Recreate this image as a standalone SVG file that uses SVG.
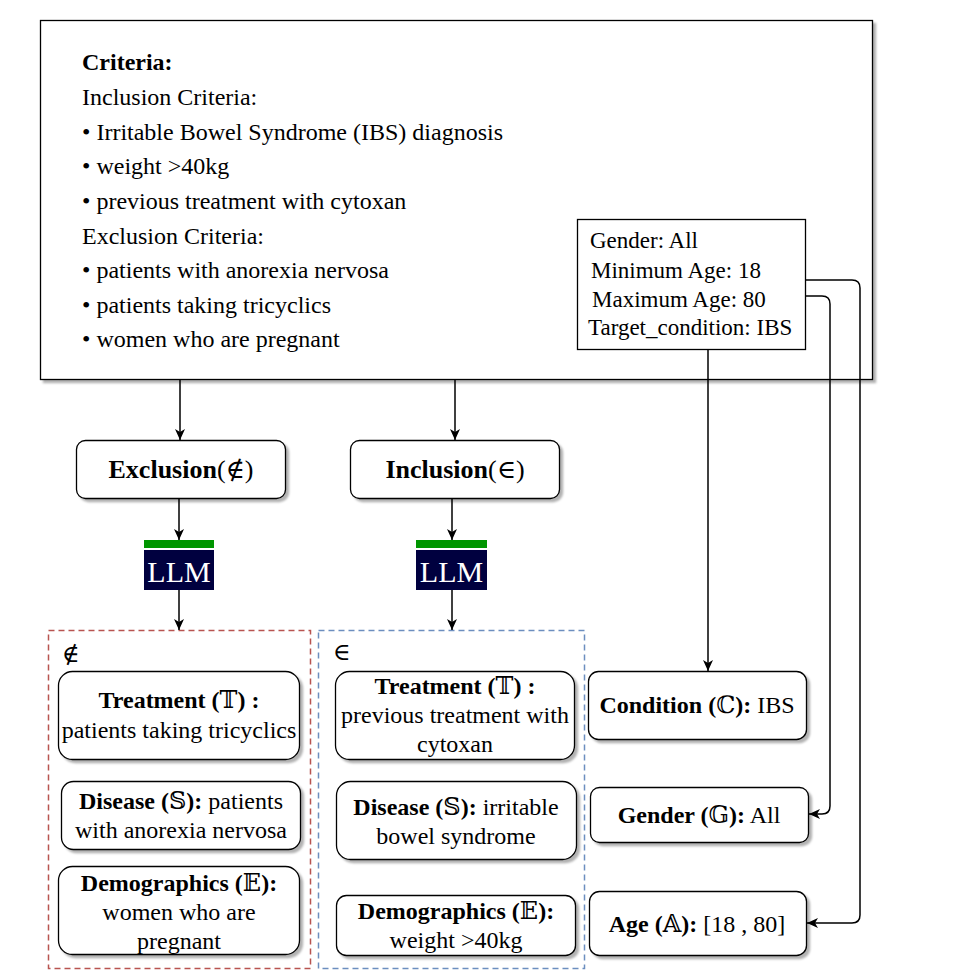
<svg xmlns="http://www.w3.org/2000/svg" width="971" height="972" viewBox="0 0 971 972">
<style>
text{font-family:"Liberation Serif","DejaVu Serif","DejaVu Sans",serif;font-size:24px;fill:#000}
.b{font-weight:bold}
.box{fill:#fff;stroke:#000;stroke-width:1.3}
.c{text-anchor:middle}
.conn{fill:none;stroke:#000;stroke-width:1.5}
</style>
<defs>
<filter id="sh" x="-5%" y="-5%" width="115%" height="120%">
<feDropShadow dx="3" dy="3" stdDeviation="1" flood-color="#000" flood-opacity="0.3"/>
</filter>
<marker id="ar" markerUnits="userSpaceOnUse" markerWidth="12" markerHeight="12" viewBox="0 0 12 12" refX="11" refY="6" orient="auto">
<path d="M0,1 L11,6 L0,11 L3,6 z" fill="#000"/>
</marker>
</defs>

<g id="criteria">
<rect x="40.5" y="20.5" width="832" height="359" fill="#fff" stroke="#000" stroke-width="1.3" filter="url(#sh)"/>
<text x="82" y="70" class="b">Criteria:</text>
<text x="82" y="105">Inclusion Criteria:</text>
<text x="82" y="139.5">• Irritable Bowel Syndrome (IBS) diagnosis</text>
<text x="82" y="174">• weight &gt;40kg</text>
<text x="82" y="209">• previous treatment with cytoxan</text>
<text x="82" y="243.5">Exclusion Criteria:</text>
<text x="82" y="278">• patients with anorexia nervosa</text>
<text x="82" y="313">• patients taking tricyclics</text>
<text x="82" y="347">• women who are pregnant</text>
</g>

<g id="meta">
<rect x="577.5" y="219.5" width="228" height="130" class="box"/>
<text x="590" y="248" style="font-size:23px">Gender: All</text>
<text x="591" y="278" style="font-size:23px">Minimum Age: 18</text>
<text x="592" y="307" style="font-size:23px">Maximum Age: 80</text>
<text x="588" y="335" style="font-size:23px">Target_condition: IBS</text>
</g>

<g id="exclusion">
<rect x="76.5" y="440.5" width="209" height="58" rx="9" class="box" filter="url(#sh)"/>
<text x="181" y="478" class="c" style="font-size:26px"><tspan class="b">Exclusion</tspan>(∉)</text>
</g>
<g id="inclusion">
<rect x="350.5" y="440.5" width="209" height="58" rx="9" class="box" filter="url(#sh)"/>
<text x="455" y="478" class="c" style="font-size:26px"><tspan class="b">Inclusion</tspan>(∈)</text>
</g>

<g id="llm-exclusion">
<rect x="144" y="540" width="70" height="8" fill="#009600"/>
<rect x="144" y="550" width="70" height="40" fill="#00003f"/>
<text x="179" y="582" class="c" style="font-size:30px;fill:#fff">LLM</text>
</g>
<g id="llm-inclusion">
<rect x="416" y="540" width="71" height="8" fill="#009600"/>
<rect x="416" y="550" width="71" height="40" fill="#00003f"/>
<text x="451.5" y="582" class="c" style="font-size:30px;fill:#fff">LLM</text>
</g>

<g id="exclusion-group">
<rect x="48.5" y="630.5" width="262" height="338" fill="none" stroke="#b85450" stroke-width="1.5" stroke-dasharray="6 4"/>
<text x="62" y="662">∉</text>
</g>
<g id="inclusion-group">
<rect x="318.5" y="630.5" width="266" height="338" fill="none" stroke="#6c8ebf" stroke-width="1.5" stroke-dasharray="6 4"/>
<text x="333" y="660">∈</text>
</g>

<g id="ex-treatment">
<rect x="58.5" y="671.5" width="241" height="88" rx="14" class="box" filter="url(#sh)"/>
<text x="179" y="708" class="c"><tspan class="b">Treatment (</tspan>𝕋<tspan class="b">) :</tspan></text>
<text x="179" y="738" class="c">patients taking tricyclics</text>
</g>
<g id="ex-disease">
<rect x="61.5" y="781.5" width="239" height="68" rx="12" class="box" filter="url(#sh)"/>
<text x="181" y="809" class="c"><tspan class="b">Disease (</tspan>𝕊<tspan class="b">):</tspan> patients</text>
<text x="181" y="838" class="c">with anorexia nervosa</text>
</g>
<g id="ex-demographics">
<rect x="58.5" y="866.5" width="241" height="88" rx="14" class="box" filter="url(#sh)"/>
<text x="179" y="891" class="c"><tspan class="b">Demographics (</tspan>𝔼<tspan class="b">):</tspan></text>
<text x="179" y="920" class="c">women who are</text>
<text x="179" y="949" class="c">pregnant</text>
</g>

<g id="in-treatment">
<rect x="335.5" y="671.5" width="239" height="88" rx="14" class="box" filter="url(#sh)"/>
<text x="455" y="694" class="c"><tspan class="b">Treatment (</tspan>𝕋<tspan class="b">) :</tspan></text>
<text x="455" y="723" class="c">previous treatment with</text>
<text x="455" y="752" class="c">cytoxan</text>
</g>
<g id="in-disease">
<rect x="336.5" y="781.5" width="240" height="78" rx="14" class="box" filter="url(#sh)"/>
<text x="456" y="815" class="c"><tspan class="b">Disease (</tspan>𝕊<tspan class="b">):</tspan> irritable</text>
<text x="456" y="844" class="c">bowel syndrome</text>
</g>
<g id="in-demographics">
<rect x="336.5" y="895.5" width="239" height="60" rx="10" class="box" filter="url(#sh)"/>
<text x="456" y="919" class="c"><tspan class="b">Demographics (</tspan>𝔼<tspan class="b">):</tspan></text>
<text x="456" y="948" class="c">weight &gt;40kg</text>
</g>

<g id="condition">
<rect x="588.5" y="671.5" width="218" height="68" rx="10" class="box" filter="url(#sh)"/>
<text x="697" y="713" class="c"><tspan class="b">Condition (</tspan>ℂ<tspan class="b">):</tspan> IBS</text>
</g>
<g id="gender">
<rect x="590.5" y="787.5" width="218" height="55" rx="9" class="box" filter="url(#sh)"/>
<text x="699" y="823" class="c"><tspan class="b">Gender (</tspan>𝔾<tspan class="b">):</tspan> All</text>
</g>
<g id="age">
<rect x="589.5" y="891.5" width="217" height="64" rx="10" class="box" filter="url(#sh)"/>
<text x="697" y="932" class="c"><tspan class="b">Age (</tspan>𝔸<tspan class="b">):</tspan> [18 , 80]</text>
</g>

<g id="connectors">
<path d="M180,380 V440" class="conn" marker-end="url(#ar)"/>
<path d="M455,380 V440" class="conn" marker-end="url(#ar)"/>
<path d="M179,498 V540" class="conn" marker-end="url(#ar)"/>
<path d="M452,498 V540" class="conn" marker-end="url(#ar)"/>
<path d="M179,590 V630" class="conn" marker-end="url(#ar)"/>
<path d="M452,590 V630" class="conn" marker-end="url(#ar)"/>
<path d="M708,349 V671" class="conn" marker-end="url(#ar)"/>
<path d="M806,296 H822 Q830,296 830,304 V806 Q830,814 822,814 H809" class="conn" marker-end="url(#ar)"/>
<path d="M806,280 H852 Q860,280 860,288 V915 Q860,923 852,923 H807" class="conn" marker-end="url(#ar)"/>
</g>
</svg>
